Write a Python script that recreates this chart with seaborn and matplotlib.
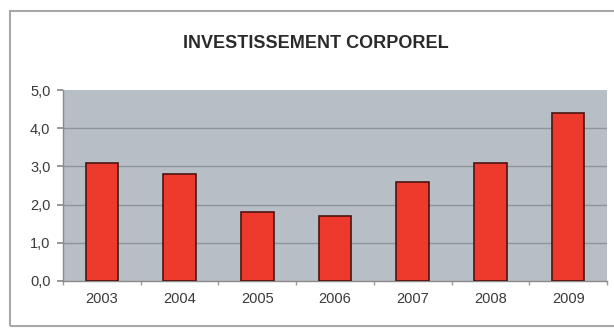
import matplotlib
matplotlib.use("Agg")
import matplotlib.pyplot as plt
from matplotlib.patches import Rectangle
import numpy as np
import pandas as pd
import seaborn as sns

years = ["2003", "2004", "2005", "2006", "2007", "2008", "2009"]
values = [3.1, 2.8, 1.8, 1.7, 2.6, 3.1, 4.4]
y_ticks = [0.0, 1.0, 2.0, 3.0, 4.0, 5.0]
title = "INVESTISSEMENT CORPOREL"

sns.set_theme(style="white")
plt.rcParams["font.family"] = ["Liberation Sans", "DejaVu Sans"]

df = pd.DataFrame({"annee": years, "valeur": values})

fig = plt.figure(figsize=(6.14, 3.29), dpi=100)
fig.patch.set_facecolor("white")
ax = fig.add_axes([0.1026, 0.146, 0.886, 0.580])

sns.barplot(data=df, x="annee", y="valeur", ax=ax, color="#ee3a2c",
            width=0.42, edgecolor="#4a1510", linewidth=1.2, saturation=1,
            zorder=3)

ax.set_facecolor("#b8bec6")
ax.set_ylim(0, 5)
ax.set_xlim(-0.5, len(years) - 0.5)
ax.set_yticks(y_ticks)
ax.set_yticklabels([f"{v:.1f}".replace(".", ",") for v in y_ticks])
ax.set_xlabel("")
ax.set_ylabel("")

for v in y_ticks[1:-1]:
    ax.axhline(v, color="#8e949b", linewidth=1.0, zorder=1)

for side in ["top", "right"]:
    ax.spines[side].set_visible(False)
ax.spines["left"].set_color("#8a8a8a")
ax.spines["bottom"].set_color("#8a8a8a")
ax.spines["left"].set_linewidth(1.0)
ax.spines["bottom"].set_linewidth(1.0)

ax.set_xticks(np.arange(-0.5, len(years)), minor=True)
ax.tick_params(axis="x", which="major", length=0, pad=8,
               labelsize=10.5, labelcolor="#3a3a3a")
ax.tick_params(axis="x", which="minor", length=3, color="#9a9a9a",
               direction="out", bottom=True)
ax.tick_params(axis="y", length=4, color="#8a8a8a", direction="out",
               left=True, labelsize=10.5, labelcolor="#3a3a3a", pad=5)

fig.text(0.515, 0.868, title, ha="center", va="center",
         fontsize=13, fontweight="bold", color="#2a2a2a")

# outer chart frame
fig.patches.append(Rectangle((10 / 614, 1 - 326 / 329), 1.0, 315 / 329,
                             transform=fig.transFigure, fill=False,
                             edgecolor="#a8a8a8", linewidth=1.5))

fig.savefig("out.png", dpi=100, facecolor="white")
